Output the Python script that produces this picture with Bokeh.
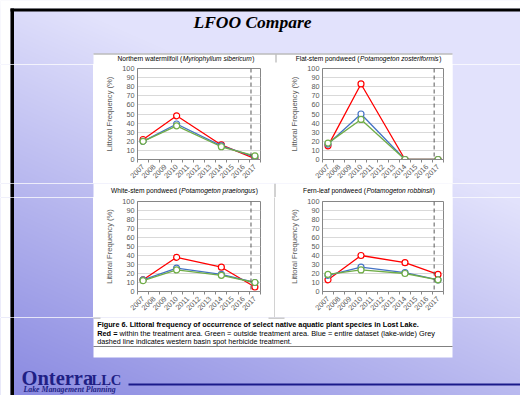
import numpy as np
from math import pi
from bokeh.plotting import figure
from bokeh.layouts import row, column
from bokeh.models import Range1d, FixedTicker, Span
from bokeh.core.properties import value
from bokeh.embed import file_html
from bokeh.resources import INLINE

# ---------------- data ----------------
survey_years = [2007, 2010, 2014, 2017]
axis_years = list(range(2007, 2018))
y_ticks = list(range(0, 101, 10))
treatment_line = 2016.65

title_common = ["Northern watermilfoil (", "Flat-stem pondweed (", "White-stem pondweed (", "Fern-leaf pondweed ("]
title_latin = ["Myriophyllum sibericum", "Potamogeton zosteriformis", "Potamogeton praelongus", "Potamogeton robbinsii"]

# Red = within treatment area, Blue = lake-wide, Green = outside treatment area
red_milfoil = [22, 48, 16, 1]
blue_milfoil = [20, 39, 15, 3]
green_milfoil = [20, 37, 14, 4]

red_flatstem = [15, 83, 0, 0]
blue_flatstem = [17, 50, 0, 0]
green_flatstem = [18, 44, 0, 0]

red_whitestem = [13, 38, 27, 5]
blue_whitestem = [13, 26, 19, 10]
green_whitestem = [12, 24, 18, 10]

red_fernleaf = [13, 40, 32, 19]
blue_fernleaf = [18, 27, 21, 13]
green_fernleaf = [19, 24, 20, 13]

series = [
    (red_milfoil, blue_milfoil, green_milfoil),
    (red_flatstem, blue_flatstem, green_flatstem),
    (red_whitestem, blue_whitestem, green_whitestem),
    (red_fernleaf, blue_fernleaf, green_fernleaf),
]

slide_title = "LFOO Compare"
caption1 = "Figure 6.  Littoral frequency of occurrence of select native aquatic plant species in Lost Lake."
caption2_bold = "Red ="
caption2 = "within the treatment area.  Green = outside treatment area.  Blue = entire dataset (lake-wide)  Grey"
caption3 = "dashed line indicates western basin spot herbicide treatment."

# ---------------- helpers ----------------
RED, BLUE, GREEN = "#FF0000", "#4472C4", "#70AD47"
GRAY_TXT = "#595959"
FONT = "Liberation Sans"

AR = {' ': 278, '(': 333, ')': 333, '%': 889, '-': 333, '.': 278, '=': 584,
      'a': 556, 'b': 556, 'c': 500, 'd': 556, 'e': 556, 'f': 278, 'g': 556, 'h': 556, 'i': 222, 'j': 222,
      'k': 500, 'l': 222, 'm': 833, 'n': 556, 'o': 556, 'p': 556, 'q': 556, 'r': 333, 's': 500, 't': 278,
      'u': 556, 'v': 500, 'w': 722, 'x': 500, 'y': 500, 'z': 500,
      'A': 667, 'B': 667, 'C': 722, 'D': 722, 'E': 667, 'F': 611, 'G': 778, 'H': 722, 'I': 278, 'L': 556,
      'M': 833, 'N': 722, 'O': 778, 'P': 667, 'R': 722, 'S': 667, 'T': 611, 'W': 944}
AB = {' ': 278, '.': 278, '=': 584, 'a': 556, 'b': 611, 'c': 556, 'd': 611, 'e': 556, 'f': 333, 'g': 611,
      'h': 611, 'i': 278, 'j': 278, 'k': 556, 'l': 278, 'm': 889, 'n': 611, 'o': 611, 'p': 611, 'q': 611,
      'r': 389, 's': 556, 't': 333, 'u': 611, 'v': 556, 'w': 778, 'x': 556, 'y': 556, 'z': 500,
      'F': 611, 'L': 611, 'R': 722}


def em(s, bold=False):
    t = AB if bold else AR
    s = s.replace("  ", " ")
    return sum(t.get(c, 556) for c in s) / 1000.0


LIGHT = np.array([226.0, 226.0, 252.0])
DARK = np.array([128.0, 128.0, 222.0])


def grad(x0, y0, w, h):
    xs = np.arange(w) + x0 + 0.5
    ys = np.arange(h) + y0 + 0.5
    X, Y = np.meshgrid(xs, ys)
    t = np.clip(0.85 * Y / 390.0 + 0.5 * (1 - X / 520.0) - 0.45, 0, 1)
    rgb = LIGHT * (1 - t[..., None]) + DARK * t[..., None]
    img = np.empty((h, w), dtype=np.uint32)
    v = img.view(dtype=np.uint8).reshape((h, w, 4))
    v[..., 0:3] = rgb.astype(np.uint8)
    v[..., 3] = 255
    return img[::-1].copy()


def plain(w, h, bg=None):
    return figure(width=w, height=h, x_range=Range1d(0, w), y_range=Range1d(0, h),
                  x_axis_type=None, y_axis_type=None, min_border=0, toolbar_location=None,
                  output_backend="svg", outline_line_color=None,
                  background_fill_color=bg, border_fill_color=bg)


class Band:
    def __init__(self, x0, y0, w, h, gradient=True, bg=None):
        self.x0, self.y0, self.w, self.h = x0, y0, w, h
        self.p = plain(w, h, bg)
        if gradient:
            self.p.image_rgba(image=[grad(x0, y0, w, h)], x=0, y=0, dw=w, dh=h)

    def rect(self, x1, y1, x2, y2, color):
        self.p.quad(left=x1 - self.x0, right=x2 - self.x0, top=self.h - (y1 - self.y0),
                    bottom=self.h - (y2 - self.y0), fill_color=color, line_color=None)

    def text(self, x, y, s, size, font=FONT, style="normal", color="black", align="left"):
        # y is the vertical middle of the text
        self.p.text(x=[x - self.x0], y=[self.h - (y - self.y0)], text=[s], text_font=value(font),
                    text_font_size=value(f"{size:.2f}px"), text_font_style=style, text_color=color,
                    text_align=align, text_baseline="middle")


# image coordinates (figure sits at the page's top-left corner)
W, H = 520, 395
PANEL_L, PANEL_R = 93, 452
DIV_X = 274
ROW1_T, ROW1_B = 64, 183
ROW2_T, ROW2_B = 197, 317


def borders(b):
    b.rect(0, b.y0, 10, b.y0 + b.h, "white")
    b.rect(10, max(b.y0, 8), 13.5, b.y0 + b.h, "black")


title_size = 136.0 / em(title_common[0] + title_latin[0] + ")")


def chart_title(b, i, cx, cy):
    w1 = em(title_common[i]) * title_size
    w2 = em(title_latin[i] + ")") * title_size
    x = cx - (w1 + w2) / 2
    b.text(x + w1, cy, title_common[i].rstrip(), title_size, align="right")
    b.text(x + w1 + 0.5, cy, title_latin[i], title_size, style="italic")
    b.text(x + w1 + em(title_latin[i]) * title_size + 1, cy, ")", title_size)


# ---------- top band (slide title + first row of chart titles) ----------
top = Band(0, 0, W, ROW1_T)
top.rect(0, 0, W, 8, "white")
borders(top)
top.rect(10, 8, W, 11, "black")
top.rect(PANEL_L, 53, PANEL_R, ROW1_T, "white")
top.rect(PANEL_L, 53, PANEL_R, 54, "#9a9a9a")
top.rect(275, 54, 276, 62, "#a6a6a6")
top.text(252, 21.8, slide_title, 17.5, font="Liberation Serif", style="bold italic", align="center")
chart_title(top, 0, 185, 57.5)
chart_title(top, 1, 367.5, 57.5)

# ---------- middle band (second row of chart titles) ----------
mid = Band(0, ROW1_B, W, ROW2_T - ROW1_B)
borders(mid)
mid.rect(PANEL_L, ROW1_B, PANEL_R, ROW2_T, "white")
mid.rect(DIV_X, ROW1_B, DIV_X + 1, ROW2_T, "#a6a6a6")
chart_title(mid, 2, 183.5, 190)
chart_title(mid, 3, 368, 190)


# ---------- charts ----------
def chart(i, w, h, bl, br, bt, bb):
    p = figure(width=w, height=h, x_range=Range1d(2006.5, 2017.5), y_range=Range1d(0, 100),
               min_border_left=bl, min_border_right=br, min_border_top=bt, min_border_bottom=bb,
               toolbar_location=None, output_backend="svg", background_fill_color="white",
               border_fill_color="white", outline_line_color="#868686")
    p.xgrid.visible = False
    p.ygrid.grid_line_color = "#d9d9d9"
    p.ygrid.ticker = FixedTicker(ticks=y_ticks)
    xa, ya = p.xaxis[0], p.yaxis[0]
    xa.ticker = FixedTicker(ticks=axis_years, minor_ticks=[2006.5 + k for k in range(12)])
    xa.major_label_orientation = pi / 4
    xa.major_tick_out = 0
    xa.major_tick_in = 0
    xa.minor_tick_out = 3
    xa.minor_tick_in = 0
    xa.minor_tick_line_color = "#868686"
    xa.axis_line_color = "#868686"
    xa.major_label_standoff = 3
    xa.major_label_text_font = FONT
    xa.major_label_text_font_size = "7.3px"
    xa.major_label_text_color = GRAY_TXT
    ya.ticker = FixedTicker(ticks=y_ticks)
    ya.major_tick_out = 0
    ya.major_tick_in = 0
    ya.minor_tick_out = 0
    ya.minor_tick_in = 0
    ya.axis_line_color = "#868686"
    ya.major_label_standoff = 3
    ya.major_label_text_font = FONT
    ya.major_label_text_font_size = "7.3px"
    ya.major_label_text_color = GRAY_TXT
    ya.axis_label = "Littoral Frequency (%)"
    ya.axis_label_text_font = FONT
    ya.axis_label_text_font_size = "7.6px"
    ya.axis_label_text_font_style = "normal"
    ya.axis_label_text_color = GRAY_TXT
    ya.axis_label_standoff = 5
    p.add_layout(Span(location=treatment_line, dimension="height", line_color=GRAY_TXT,
                      line_dash="4 3", line_width=1))
    for vals, col in zip(series[i], (RED, BLUE, GREEN)):
        p.line(survey_years, vals, line_color=col, line_width=1.3)
        p.scatter(survey_years, vals, marker="circle", size=6, fill_color="white",
                  line_color=col, line_width=1.2)
    return p


h1 = ROW1_B - ROW1_T
h2 = ROW2_B - ROW2_T
c1 = chart(0, DIV_X - PANEL_L, h1, 44, 14, 4, 24)
c2 = chart(1, PANEL_R - DIV_X - 1, h1, 47, 9, 4, 24)
c3 = chart(2, DIV_X - PANEL_L, h2, 44, 14, 4, 26)
c4 = chart(3, PANEL_R - DIV_X - 1, h2, 47, 9, 4, 26)

div1 = Band(DIV_X, ROW1_T, 1, h1, gradient=False, bg="white")
div2 = Band(DIV_X, ROW2_T, 1, h2, gradient=False, bg="#a6a6a6")

left1 = Band(0, ROW1_T, PANEL_L, h1)
borders(left1)
right1 = Band(PANEL_R, ROW1_T, W - PANEL_R, h1)
left2 = Band(0, ROW2_T, PANEL_L, h2)
borders(left2)
right2 = Band(PANEL_R, ROW2_T, W - PANEL_R, h2)

# ---------- bottom band ----------
y0 = ROW2_B
bot = Band(0, y0, W, H - y0)
borders(bot)
bot.rect(PANEL_L, y0, PANEL_R, 357, "white")
bot.rect(PANEL_L, y0, 100, y0 + 1, "#9a9a9a")
bot.rect(268, y0, 284, y0 + 1, "#9a9a9a")
bot.rect(PANEL_L, 345.5, PANEL_R, 346.5, "#808080")
cx = 96.7
s1 = 321.6 / em(caption1, True)
bot.text(cx, 324, caption1, s1, style="bold")
s2 = 338.0 / (em(caption2_bold + " ", True) + em(caption2))
bot.text(cx, 333, caption2_bold, s2, style="bold")
bot.text(cx + em(caption2_bold + " ", True) * s2, 333, caption2, s2)
s3 = 195.0 / em(caption3)
bot.text(cx, 341, caption3, s3)
# logo
NAVY = "#1f1f85"
bot.text(21, 377.8, "Onterra", 20.5, font="Liberation Serif", style="bold", color=NAVY)
bot.text(91, 379.8, "LLC", 14.5, font="Liberation Serif", style="bold", color=NAVY)
bot.text(23, 388.7, "Lake Management Planning", 7.8, font="Liberation Serif", style="bold italic",
         color=NAVY)
bot.rect(128, 383, W, 385, "#1a1a8a")

# charts are wrapped in their own columns so the row does not align their frames with the bands
layout = column(
    top.p,
    row(left1.p, column(c1), div1.p, column(c2), right1.p),
    mid.p,
    row(left2.p, column(c3), div2.p, column(c4), right2.p),
    bot.p,
)

with open("out.html", "w") as f:
    f.write(file_html(layout, INLINE))
